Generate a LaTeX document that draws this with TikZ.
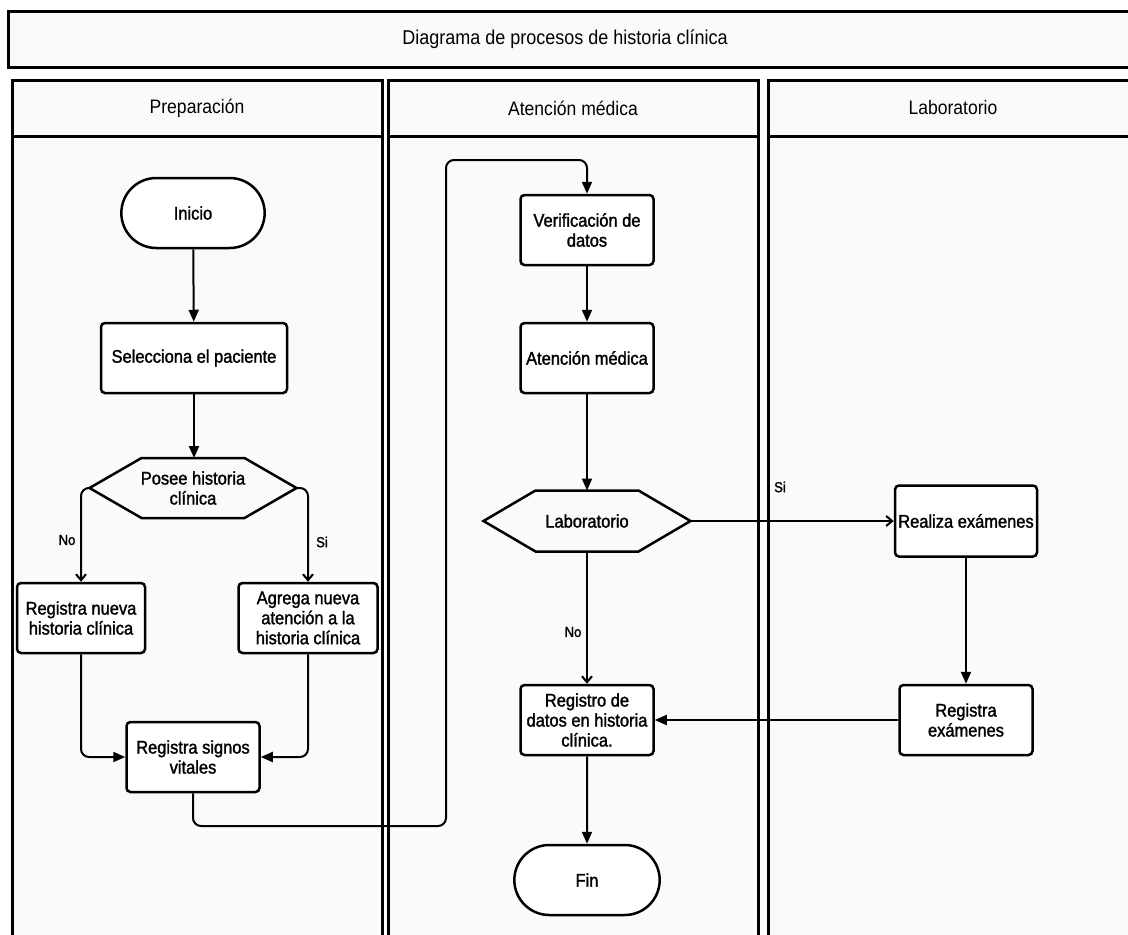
\documentclass[tikz,border=0pt]{standalone}
\usepackage{fontspec}
\setmainfont{Liberation Sans}
\newfontfamily\boxfont{Liberation Sans}[FakeBold=1.5, FakeStretch=0.9]
\newfontfamily\headfont{Liberation Sans}[FakeStretch=0.9]
\usetikzlibrary{arrows.meta,shapes.misc,positioning}

\definecolor{lanebg}{RGB}{250,250,250}

\tikzset{
  lane/.style={draw, line width=3pt, fill=lanebg},
  head/.style={font=\headfont\fontsize{19.5}{22}\selectfont},
  proc/.style={draw, line width=2.5pt, fill=white, rounded corners=4pt,
    minimum width=133pt, minimum height=70pt, inner sep=2pt, align=center,
    font=\boxfont\fontsize{18.3}{20}\selectfont},
  term/.style={draw, line width=2.5pt, fill=white, rounded rectangle,
    minimum width=150pt, minimum height=70pt, align=center,
    font=\boxfont\fontsize{18.3}{20}\selectfont},
  hexbox/.style={minimum width=207pt, minimum height=60pt, inner sep=2pt,
    outer sep=0pt, align=center, font=\boxfont\fontsize{18.3}{20}\selectfont},
  link/.style={line width=2pt, rounded corners=8pt, -{Triangle[length=12pt,width=10pt]}},
  openlink/.style={line width=2pt, rounded corners=8pt, -{Straight Barb[length=6pt,width=10pt]}},
  tag/.style={font=\boxfont\fontsize{14.5}{16}\selectfont}
}

% hexagon round a decision node
\newcommand{\hexdraw}[1]{\draw[line width=2.5pt, line join=miter]
  (#1.west) -- ([xshift=52pt]#1.north west) -- ([xshift=-52pt]#1.north east)
  -- (#1.east) -- ([xshift=-52pt]#1.south east) -- ([xshift=52pt]#1.south west) -- cycle;}

\begin{document}
\begin{tikzpicture}[x=1pt,y=-1pt]
  \clip (0,0) rectangle (1128,935);
  \fill[white] (0,0) rectangle (1128,935);

  % title and lanes
  \draw[lane] (8,11) rectangle (1140,67);
  \node[head, font=\headfont\fontsize{20}{22}\selectfont] (title) at (565,39) {Diagrama de procesos de historia clínica};
  \foreach \x/\name/\txt in {12/prep/Preparación, 388/aten/Atención médica, 768/labo/Laboratorio} {
    \draw[lane] (\x,80) rectangle ++(370,880);
    \draw[line width=3pt] (\x,136) -- ++(370,0);
    \node[head] (\name) at ({\x+185},108) {\txt};
  }

  % Preparacion
  \node[term] (ini) at (193,213) {Inicio};
  \node[proc, minimum width=186pt] (sel) at (194,358) {Selecciona el paciente};
  \node[hexbox] (pos) at (193,488) {Posee historia\\clínica};
  \hexdraw{pos}
  \node[proc, minimum width=128pt] (rn) at (81,618) {Registra nueva\\historia clínica};
  \node[proc, minimum width=139pt] (ag) at (308,618) {Agrega nueva\\atención a la\\historia clínica};
  \node[proc] (sv) at (193,757) {Registra signos\\vitales};

  % Atencion medica
  \node[proc] (vd) at (587,230) {Verificación de\\datos};
  \node[proc] (am) at (587,358) {Atención médica};
  \node[hexbox, minimum height=61pt] (lab) at (587,521) {Laboratorio};
  \hexdraw{lab}
  \node[proc] (rd) at (587,720) {Registro de\\datos en historia\\clínica.};
  \node[term, minimum width=152pt] (fin) at (587,880) {Fin};

  % Laboratorio
  \node[proc, minimum width=142pt, minimum height=71pt] (re) at (966,521) {Realiza exámenes};
  \node[proc] (rx) at (966,720) {Registra\\exámenes};

  \coordinate (loopbot) at (446,826);
  \coordinate (looptop) at (446,160);

  % connectors
  \draw[link] (ini) -- (sel);
  \draw[link] (sel.south) -- (pos.north -| sel.south);
  \draw[openlink] (pos.west) -| (rn.north);
  \draw[openlink] (pos.east) -| (ag.north);
  \draw[link] (rn.south) |- (sv.west);
  \draw[link] (ag.south) |- (sv.east);
  \draw[link] (sv.south) |- (loopbot) -- (looptop) -| (vd.north);
  \draw[link] (vd) -- (am);
  \draw[link] (am.south) -- (lab.north);
  \draw[openlink] (lab.south) -- (rd.north);
  \draw[openlink] (lab.east) -- (re.west);
  \draw[link] (re) -- (rx);
  \draw[link] (rx.west) -- (rd.east);
  \draw[link] (rd) -- (fin);

  % branch labels
  \node[tag] (no1) at (67,540) {No};
  \node[tag] (si1) at (322,542) {Si};
  \node[tag] (no2) at (573,632) {No};
  \node[tag] (si2) at (780,487) {Si};
\end{tikzpicture}
\end{document}
